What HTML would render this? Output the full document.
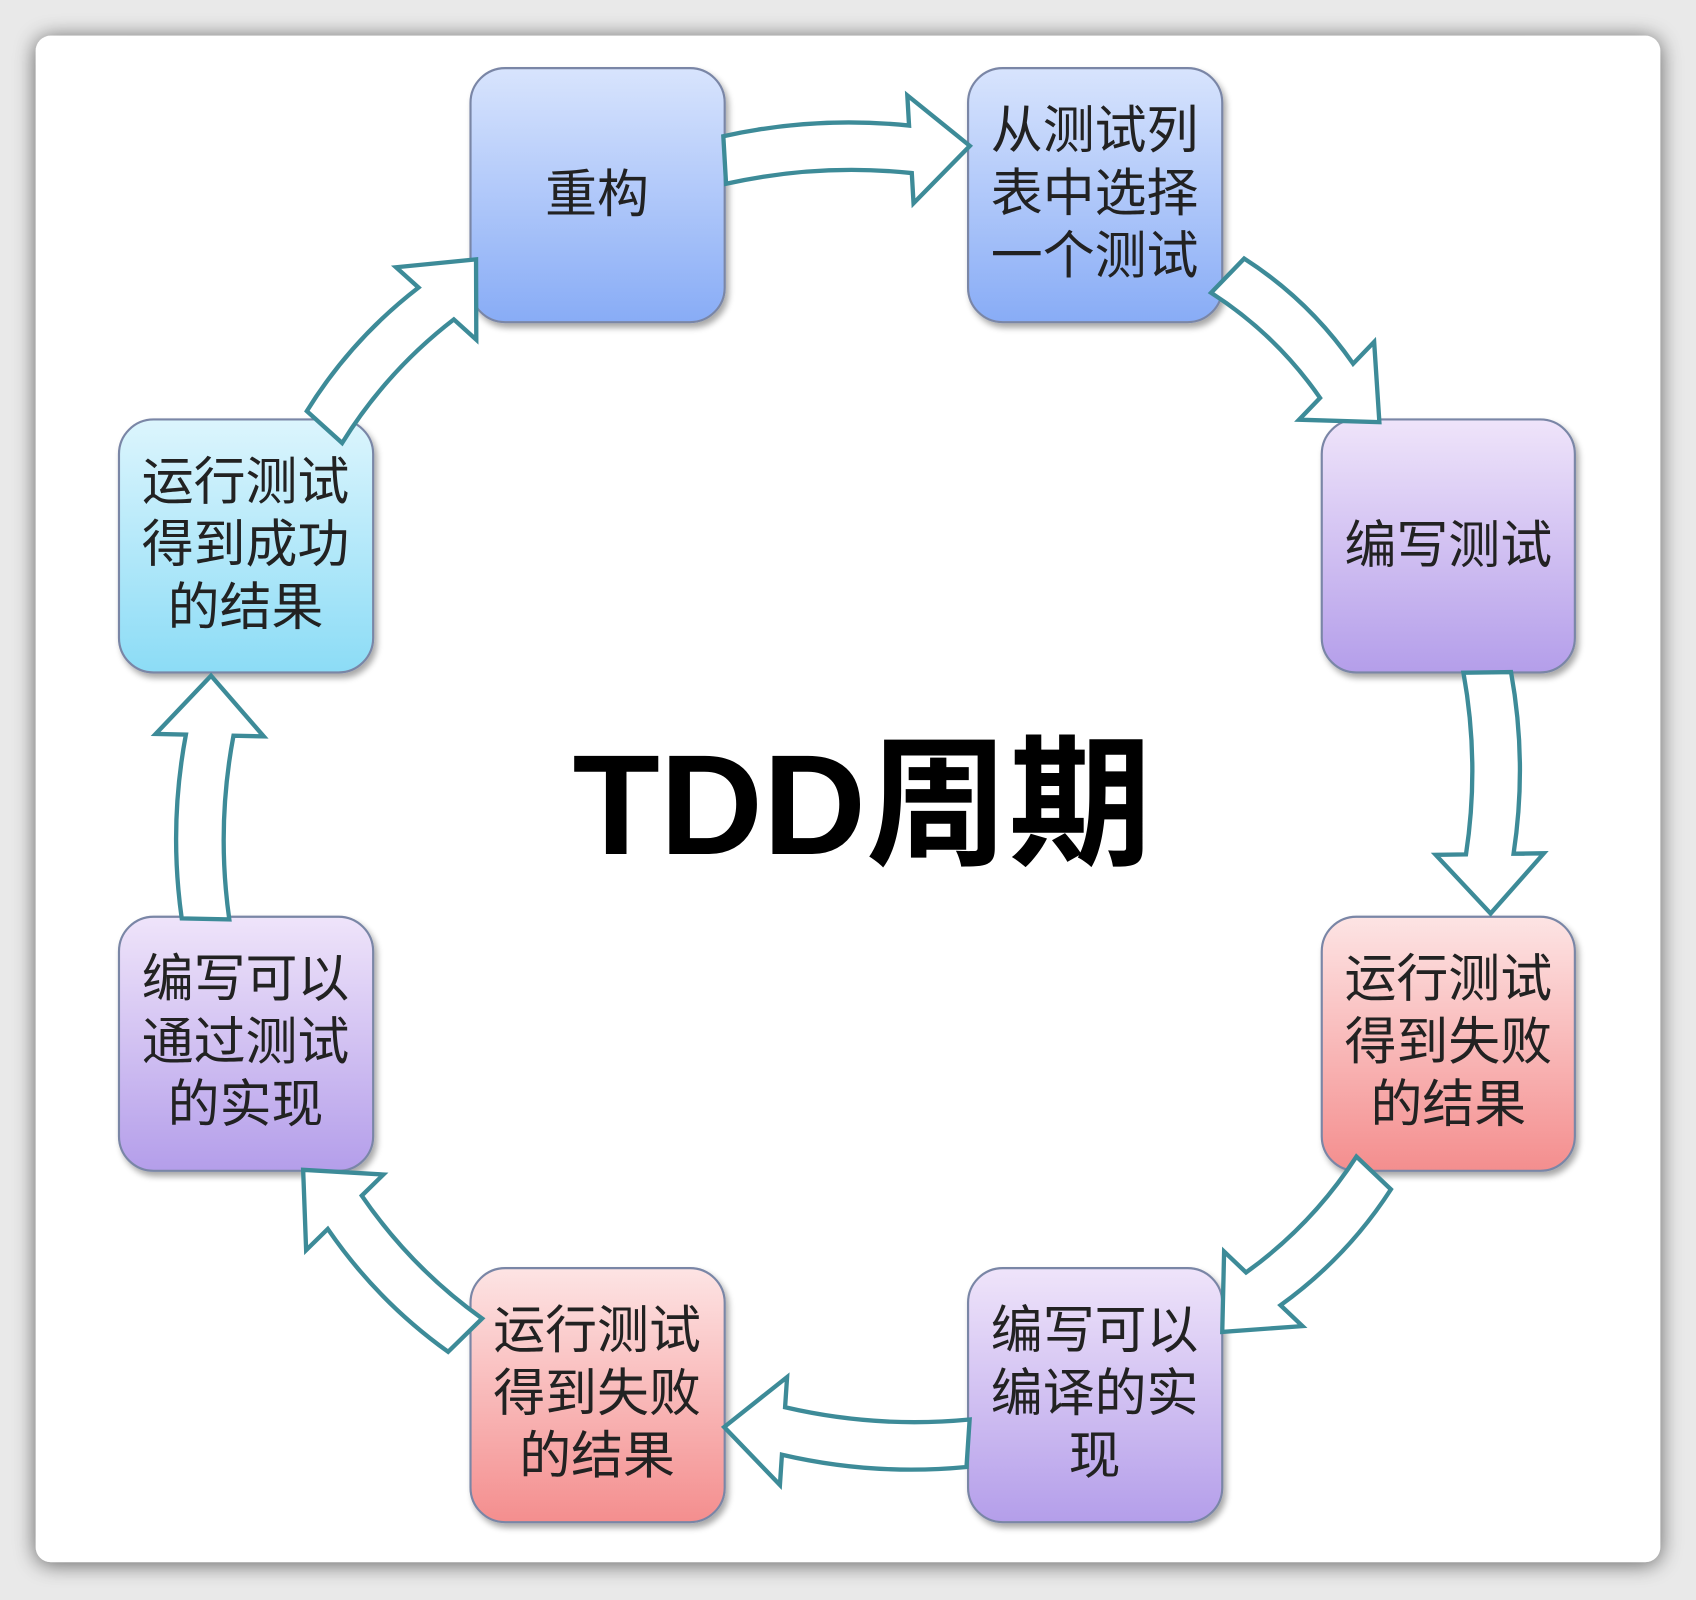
<!DOCTYPE html>
<html><head><meta charset="utf-8"><style>
html,body{margin:0;padding:0;background:#ebebeb;}
svg{display:block;}
</style></head><body>
<svg width="1696" height="1600" viewBox="0 0 1568 1480" preserveAspectRatio="none" xmlns="http://www.w3.org/2000/svg">
<defs>
<filter id="sh" x="-10%" y="-10%" width="120%" height="120%"><feGaussianBlur in="SourceAlpha" stdDeviation="10"/><feOffset dx="0" dy="2"/><feComponentTransfer><feFuncA type="linear" slope="0.6"/></feComponentTransfer><feMerge><feMergeNode/><feMergeNode in="SourceGraphic"/></feMerge></filter>
<filter id="bs" x="-10%" y="-10%" width="130%" height="130%"><feGaussianBlur in="SourceAlpha" stdDeviation="3"/><feOffset dx="3" dy="4"/><feComponentTransfer><feFuncA type="linear" slope="0.35"/></feComponentTransfer><feMerge><feMergeNode/><feMergeNode in="SourceGraphic"/></feMerge></filter>
<linearGradient id="gb" x1="0" y1="0" x2="0" y2="1"><stop offset="0" stop-color="#d8e4fd"/><stop offset="1" stop-color="#88acf6"/></linearGradient>
<linearGradient id="gp" x1="0" y1="0" x2="0" y2="1"><stop offset="0" stop-color="#efe4fa"/><stop offset="1" stop-color="#b49eea"/></linearGradient>
<linearGradient id="gr" x1="0" y1="0" x2="0" y2="1"><stop offset="0" stop-color="#fde4e4"/><stop offset="1" stop-color="#f48e8e"/></linearGradient>
<linearGradient id="gc" x1="0" y1="0" x2="0" y2="1"><stop offset="0" stop-color="#dcf5fd"/><stop offset="1" stop-color="#8cdcf6"/></linearGradient>
</defs>
<rect x="0" y="0" width="1568" height="1480" fill="#e9e9e9"/>
<rect x="33" y="33" width="1502" height="1412" rx="14" fill="#fff" filter="url(#sh)"/>

<g stroke="#7a86a6" stroke-width="2" filter="url(#bs)">
<rect x="435" y="63" width="235" height="235" rx="32" fill="url(#gb)"/>
<rect x="895" y="63" width="235" height="235" rx="32" fill="url(#gb)"/>
<rect x="1222" y="388" width="234" height="234" rx="32" fill="url(#gp)"/>
<rect x="1222" y="848" width="234" height="235" rx="32" fill="url(#gr)"/>
<rect x="895" y="1173" width="235" height="235" rx="32" fill="url(#gp)"/>
<rect x="435" y="1173" width="235" height="235" rx="32" fill="url(#gr)"/>
<rect x="110" y="848" width="235" height="235" rx="32" fill="url(#gp)"/>
<rect x="110" y="388" width="235" height="234" rx="32" fill="url(#gc)"/>
</g>

<g fill="#fff" stroke="#3d8b98" stroke-width="4" stroke-linejoin="miter">
<g transform="translate(670,148) rotate(-3.3)"><path d="M0,-22 Q86,-36 172,-22 L172,-50 L227,0 L172,50 L172,22 Q86,8 0,22 Z"/></g>
<g transform="translate(1135,255) rotate(44)"><path d="M0,-22 Q70,-36 140,-22 L140,-50 L195,0 L140,50 L140,22 Q70,8 0,22 Z"/></g>
<g transform="translate(1375,622) rotate(89.2)"><path d="M0,-22 Q84,-36 168,-22 L168,-50 L223,0 L168,50 L168,22 Q84,8 0,22 Z"/></g>
<g transform="translate(1270,1085) rotate(133.6)"><path d="M0,-22 Q74,-36 148,-22 L148,-50 L203,0 L148,50 L148,22 Q74,8 0,22 Z"/></g>
<g transform="translate(895,1335) rotate(183.8)"><path d="M0,-22 Q85.5,-36 171,-22 L171,-50 L226,0 L171,50 L171,22 Q85.5,8 0,22 Z"/></g>
<g transform="translate(430,1235) rotate(225.6)"><path d="M0,-22 Q79.5,-36 159,-22 L159,-50 L214,0 L159,50 L159,22 Q79.5,8 0,22 Z"/></g>
<g transform="translate(190,850) rotate(-88.7)"><path d="M0,-22 Q85,-36 170,-22 L170,-50 L225,0 L170,50 L170,22 Q85,8 0,22 Z"/></g>
<g transform="translate(300,395) rotate(-47.9)"><path d="M0,-22 Q77,-36 154,-22 L154,-50 L209,0 L154,50 L154,22 Q77,8 0,22 Z"/></g>
</g>

<g font-family="'Liberation Sans','Noto Sans CJK SC',sans-serif" font-size="48" fill="#222" text-anchor="middle">
<text x="552" y="196">重构</text>
<text x="1012" y="137">从测试列</text><text x="1012" y="195">表中选择</text><text x="1012" y="253">一个测试</text>
<text x="1339" y="521">编写测试</text>
<text x="1339" y="922">运行测试</text><text x="1339" y="980">得到失败</text><text x="1339" y="1038">的结果</text>
<text x="1012" y="1247">编写可以</text><text x="1012" y="1305">编译的实</text><text x="1012" y="1363">现</text>
<text x="552" y="1247">运行测试</text><text x="552" y="1305">得到失败</text><text x="552" y="1363">的结果</text>
<text x="227" y="922">编写可以</text><text x="227" y="980">通过测试</text><text x="227" y="1038">的实现</text>
<text x="227" y="462">运行测试</text><text x="227" y="520">得到成功</text><text x="227" y="578">的结果</text>
</g>
<text x="797" y="790" text-anchor="middle" font-family="'Liberation Sans','Noto Sans CJK SC',sans-serif" font-weight="bold" font-size="132" fill="#000">TDD周期</text>
</svg>
</body></html>
